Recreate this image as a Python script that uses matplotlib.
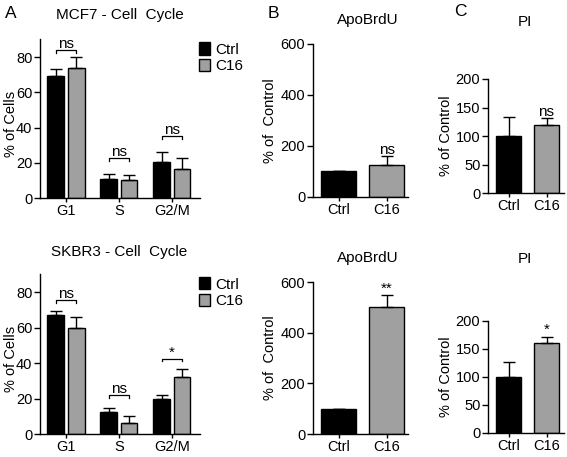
import numpy as np
import matplotlib.pyplot as plt

plt.rcParams['font.family'] = ['Liberation Sans', 'DejaVu Sans']
plt.rcParams['font.size'] = 11

W, H = 567, 457

# cell cycle data
phases = ['G1', 'S', 'G2/M']
mcf7_ctrl = [69.5, 10.5, 20.6]
mcf7_ctrl_err = [3.5, 3.2, 5.3]
mcf7_c16 = [73.7, 10.0, 16.2]
mcf7_c16_err = [6.5, 3.2, 6.3]
mcf7_sig = ['ns', 'ns', 'ns']
mcf7_brk = [84, 22.5, 35]

skbr3_ctrl = [67.2, 12.2, 19.8]
skbr3_ctrl_err = [2.1, 2.3, 2.2]
skbr3_c16 = [59.7, 6.2, 32.4]
skbr3_c16_err = [6.0, 4.0, 4.3]
skbr3_sig = ['ns', 'ns', '*']
skbr3_brk = [75.5, 22, 42.5]

groups = ['Ctrl', 'C16']
apo_top = [100, 124]
apo_top_err = [0, 35]
apo_bot = [100, 502]
apo_bot_err = [0, 48]
pi_top = [100, 120]
pi_top_err = [33, 11]
pi_bot = [100, 161]
pi_bot_err = [26, 11]

black = '#000000'
grey = '#a0a0a0'
FS = 10.5

fig = plt.figure(figsize=(W / 100, H / 100), dpi=100)


def ax_px(l, r, t, b):
    return fig.add_axes([l / W, 1 - b / H, (r - l) / W, (b - t) / H])


def style(ax):
    for s in ['top', 'right']:
        ax.spines[s].set_visible(False)
    for s in ['left', 'bottom']:
        ax.spines[s].set_linewidth(1.0)
    ax.tick_params(direction='out', length=4, width=1.0, labelsize=FS, pad=1.5)
    ax.tick_params(axis='x', length=3, pad=1.5)


def cycle_panel(ax, ctrl, cerr, c16, c16err, sig, brk, ylim_top):
    x = np.arange(len(phases))
    w, off = 0.31, 0.195
    ax.bar(x - off, ctrl, w, color=black, edgecolor='black', linewidth=1,
           yerr=[np.zeros(3), cerr], error_kw=dict(capsize=4, elinewidth=1, capthick=1))
    ax.bar(x + off, c16, w, color=grey, edgecolor='black', linewidth=1,
           yerr=[np.zeros(3), c16err], error_kw=dict(capsize=4, elinewidth=1, capthick=1))
    for i in range(3):
        y = brk[i]
        ax.plot([x[i] - off, x[i] - off, x[i] + off, x[i] + off],
                [y - 1.5, y, y, y - 1.5], color='black', lw=0.9)
        ax.text(x[i], y - 0.5, sig[i], ha='center', va='bottom', fontsize=11)
    ax.set_xlim(-0.49, 2.53)
    ax.set_ylim(0, ylim_top)
    ax.set_yticks([0, 20, 40, 60, 80])
    ax.set_xticks(x)
    ax.set_xticklabels(phases)
    ax.set_ylabel('% of Cells', fontsize=FS)
    ax.yaxis.set_label_coords(-0.14, 0.47)
    style(ax)


def two_bar(ax, vals, err, sig, ymax, yticks, ylabel, xl, w, lx):
    x = np.arange(2)
    ax.bar(x, vals, w, color=[black, grey], edgecolor='black', linewidth=1,
           yerr=[np.zeros(2), err], error_kw=dict(capsize=4, elinewidth=1, capthick=1))
    ax.text(1, vals[1] + err[1] - ymax * 0.005, sig, ha='center', va='bottom', fontsize=11)
    ax.set_xlim(*xl)
    ax.set_ylim(0, ymax)
    ax.set_yticks(yticks)
    ax.set_xticks(x)
    ax.set_xticklabels(groups)
    ax.set_ylabel(ylabel, fontsize=FS)
    ax.yaxis.set_label_coords(lx, 0.5)
    style(ax)


# panel A
a1 = ax_px(40, 200, 39.4, 198)
cycle_panel(a1, mcf7_ctrl, mcf7_ctrl_err, mcf7_c16, mcf7_c16_err, mcf7_sig, mcf7_brk, 90)
a2 = ax_px(40, 200, 274.3, 434)
cycle_panel(a2, skbr3_ctrl, skbr3_ctrl_err, skbr3_c16, skbr3_c16_err, skbr3_sig, skbr3_brk, 90)

# legends
for ax in (a1, a2):
    h = [plt.Rectangle((0, 0), 1, 1, facecolor=c, edgecolor='black', lw=1) for c in (black, grey)]
    ax.legend(h, groups, loc='upper left', bbox_to_anchor=(0.955, 1.02), frameon=False,
              handlelength=0.75, handleheight=0.85, handletextpad=0.35, labelspacing=0.15,
              fontsize=11, borderaxespad=0)

# panel B
b1 = ax_px(313, 408, 44, 197)
two_bar(b1, apo_top, apo_top_err, 'ns', 600, [0, 200, 400, 600],
        '% of  Control', (-0.54, 1.44), 0.73, -0.38)
b2 = ax_px(313, 408, 282, 434)
two_bar(b2, apo_bot, apo_bot_err, '**', 600, [0, 200, 400, 600],
        '% of  Control', (-0.54, 1.44), 0.73, -0.38)

# panel C
c1 = ax_px(488, 564, 79, 193)
two_bar(c1, pi_top, pi_top_err, 'ns', 200, [0, 50, 100, 150, 200],
        '% of Control', (-0.54, 1.46), 0.68, -0.46)
c2 = ax_px(488, 564, 321, 433)
two_bar(c2, pi_bot, pi_bot_err, '*', 200, [0, 50, 100, 150, 200],
        '% of Control', (-0.54, 1.46), 0.68, -0.46)


# titles and panel letters placed in pixel coords
def ftext(x, y, s, **kw):
    fig.text(x / W, 1 - y / H, s, ha='center', va='center', **kw)


ftext(120, 15, 'MCF7 - Cell  Cycle', fontsize=11)
ftext(119, 252, 'SKBR3 - Cell  Cycle', fontsize=11)
ftext(368, 20, 'ApoBrdU', fontsize=11)
ftext(368, 258, 'ApoBrdU', fontsize=11)
ftext(525, 22, 'PI', fontsize=11)
ftext(525, 259, 'PI', fontsize=11)
ftext(11, 13, 'A', fontsize=12.5)
ftext(273, 13, 'B', fontsize=12.5)
ftext(460, 12, 'C', fontsize=12.5)

fig.savefig('out.png', dpi=100)
